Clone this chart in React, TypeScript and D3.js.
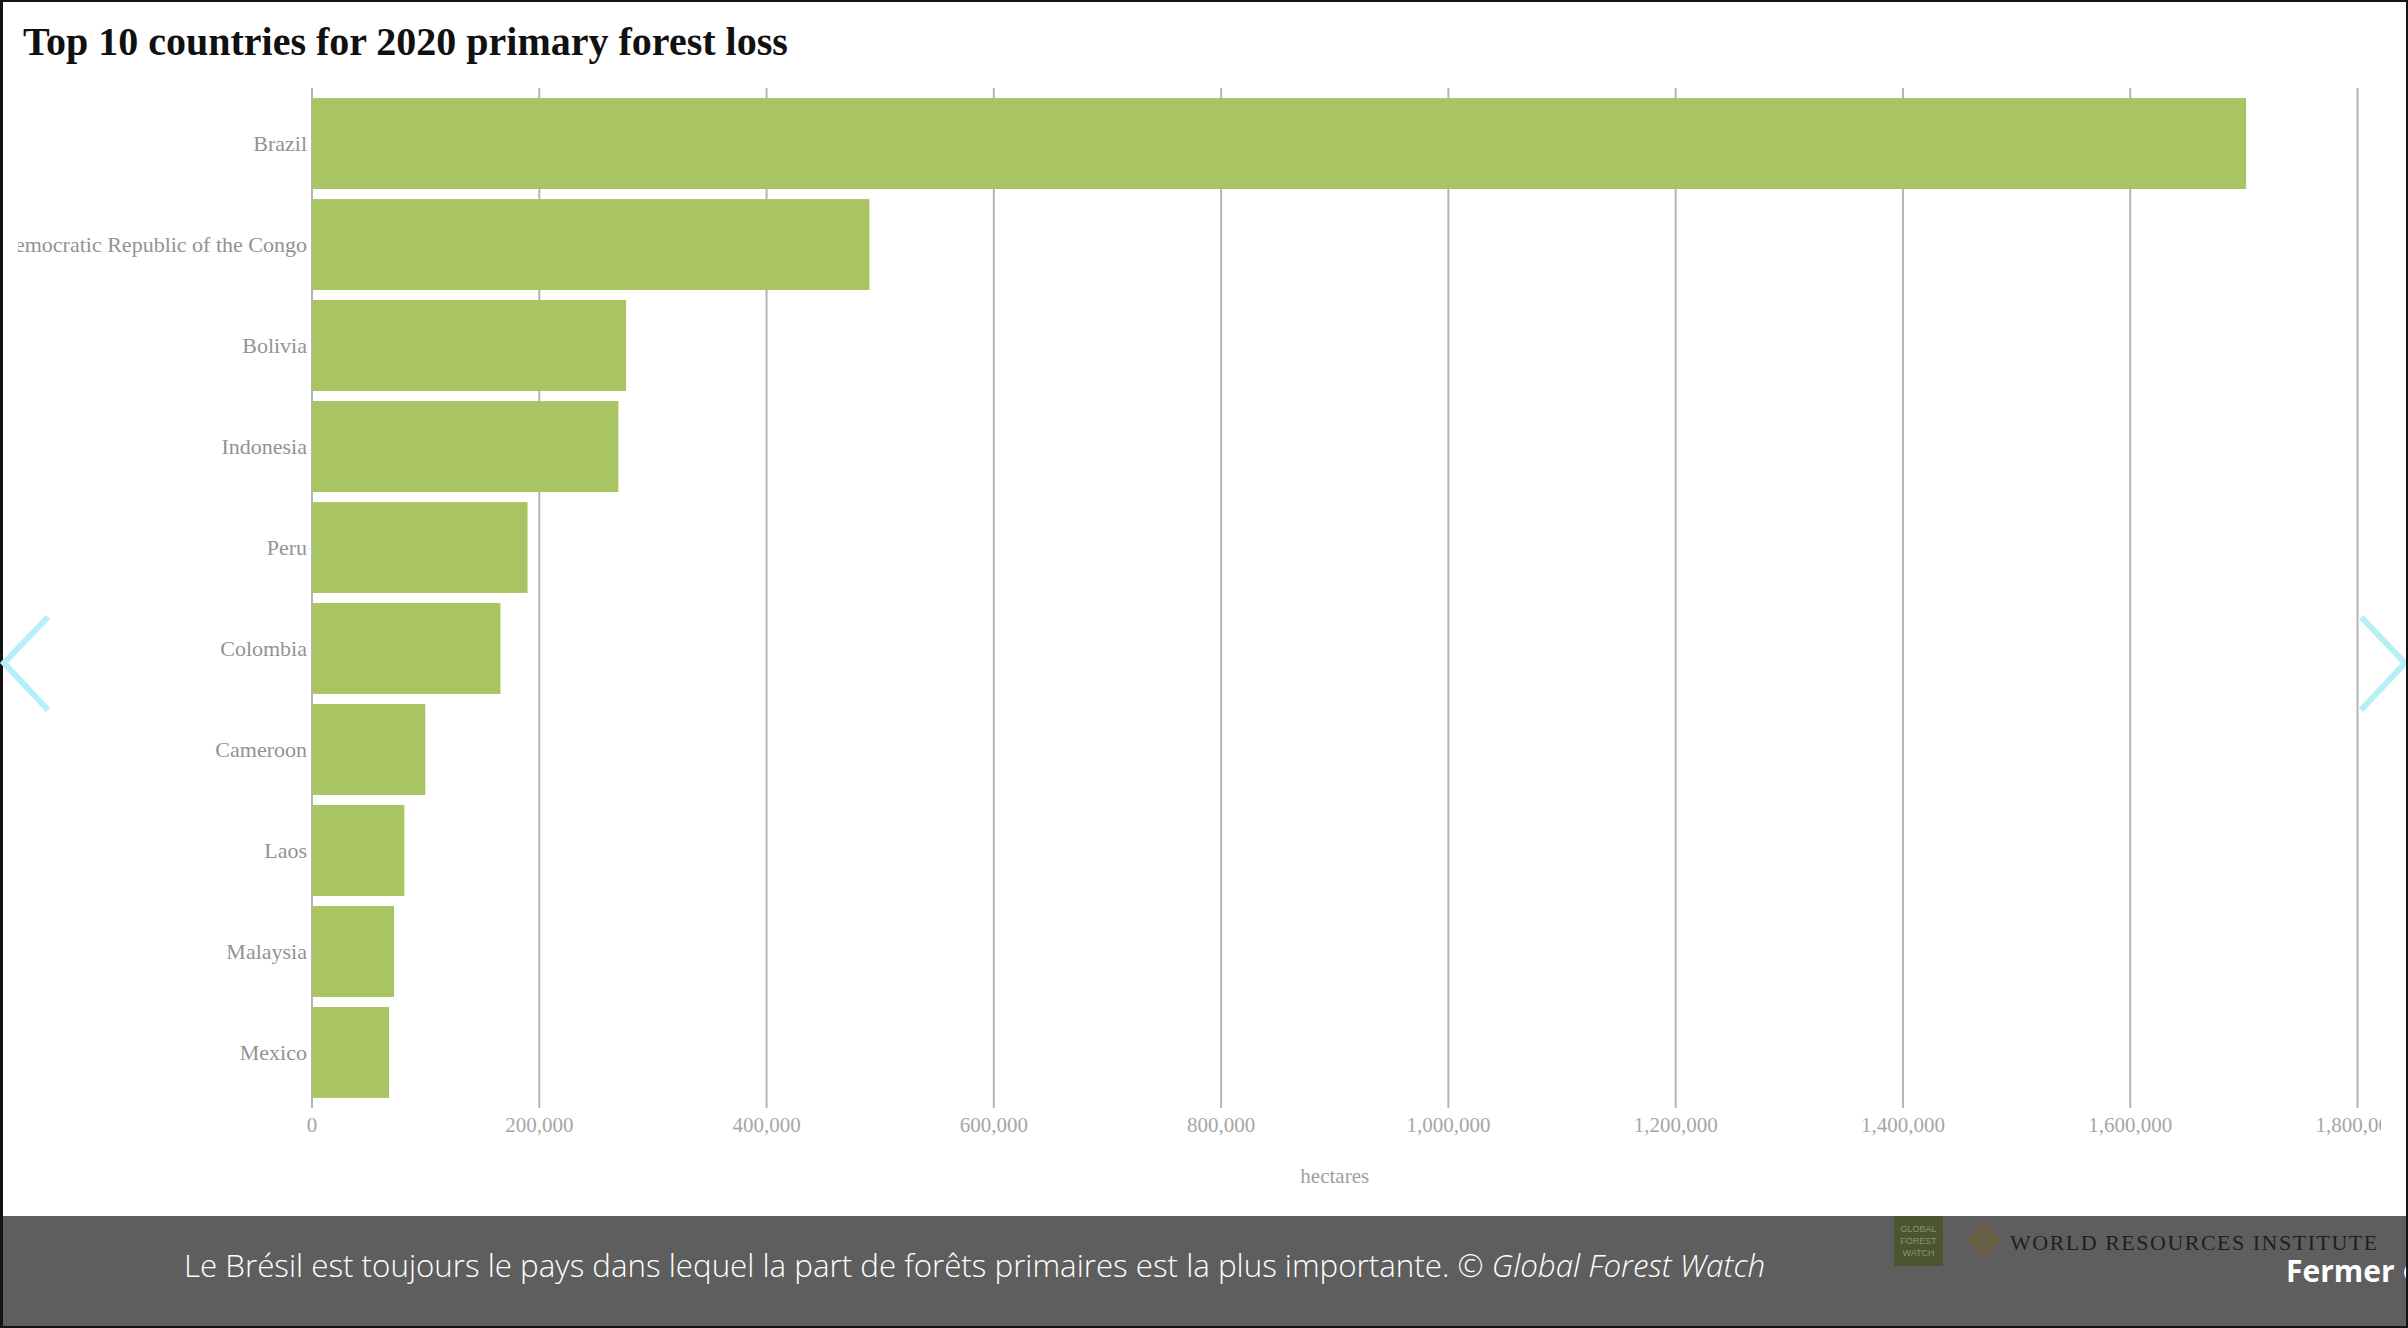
import React from 'react';
import * as d3 from 'd3';

const countries = [
  'Brazil',
  'Democratic Republic of the Congo',
  'Bolivia',
  'Indonesia',
  'Peru',
  'Colombia',
  'Cameroon',
  'Laos',
  'Malaysia',
  'Mexico',
];
const lossHa = [1702000, 490500, 276400, 269600, 189700, 165800, 99700, 81300, 72200, 67800];
const xMax = 1800000;
const axisTitle = 'hectares';
const chartTitle = 'Top 10 countries for 2020 primary forest loss';
const captionText = 'Le Brésil est toujours le pays dans lequel la part de forêts primaires est la plus importante. © ';
const captionSource = 'Global Forest Watch';

const W = 2408;
const H = 1328;

const App: React.FC = () => {
  const x = d3.scaleLinear().domain([0, xMax]).range([312, 2357.5]);
  const y = d3.scaleBand<string>().domain(countries).range([88, 1108]).paddingInner(0.1).paddingOuter(0.1);
  const fmt = d3.format(',');
  const ticks = x.ticks(10);
  const serif = '"Liberation Serif", "Times New Roman", serif';
  const sans = '"Open Sans", Lato, sans-serif';

  return (
    <svg width={W} height={H} style={{ position: 'fixed', left: 0, top: 0 }}>
      <defs>
        <clipPath id="chartClip">
          <rect x={18} y={0} width={2381 - 18} height={1216} />
        </clipPath>
      </defs>
      <rect x={0} y={0} width={W} height={H} fill="#141414" />
      <rect x={3} y={2} width={2403} height={1214} fill="#ffffff" />

      <text x={23} y={55} fontFamily={serif} fontWeight="bold" fontSize={40} fill="#111">
        {chartTitle}
      </text>

      <g clipPath="url(#chartClip)">
        {ticks.map((t) => (
          <g key={t}>
            <line x1={x(t)} x2={x(t)} y1={88} y2={1108} stroke="#b4b4b4" strokeWidth={2} />
            <text x={x(t)} y={1132} textAnchor="middle" fontFamily={serif} fontSize={21} fill="#a6a6a6">
              {fmt(t)}
            </text>
          </g>
        ))}
        {countries.map((c, i) => (
          <g key={c}>
            <rect
              x={x(0)}
              y={y(c)}
              width={x(lossHa[i]) - x(0)}
              height={y.bandwidth()}
              fill="#a9c462"
            />
            <text
              x={307}
              y={(y(c) as number) + y.bandwidth() / 2}
              dy="0.35em"
              textAnchor="end"
              fontFamily={serif}
              fontSize={22}
              fill="#939393"
            >
              {c}
            </text>
          </g>
        ))}
        <text x={(x(0) + x(xMax)) / 2} y={1183} textAnchor="middle" fontFamily={serif} fontSize={21} fill="#a0a0a0">
          {axisTitle}
        </text>
      </g>

      {/* carousel arrows */}
      <polyline points="48,617 4,663 48,710" fill="none" stroke="#b5f0f7" strokeWidth={6} />
      <polyline points="2361,617 2405,663 2361,710" fill="none" stroke="#b5f0f7" strokeWidth={6} />

      {/* caption bar */}
      <rect x={3} y={1216} width={2403} height={110} fill="#5e5e5e" />
      <text x={184} y={1277} fontFamily={sans} fontWeight={300} fontSize={31.3} fill="#ffffff">
        {captionText}
        <tspan fontStyle="italic">{captionSource}</tspan>
      </text>

      <rect x={1894} y={1216} width={49} height={50} fill="#4b5631" />
      <text fontFamily="'Liberation Sans', sans-serif" fontSize={9} fill="#8a9470" textAnchor="middle">
        <tspan x={1918.5} y={1232}>GLOBAL</tspan>
        <tspan x={1918.5} y={1244}>FOREST</tspan>
        <tspan x={1918.5} y={1256}>WATCH</tspan>
      </text>
      <g transform="translate(1984,1240) rotate(45)">
        <rect x={-12} y={-12} width={24} height={24} fill="#6e5f33" />
        {[-6, 0, 6].map((d) => (
          <g key={d}>
            <line x1={d} x2={d} y1={-12} y2={12} stroke="#5e5e5e" strokeWidth={1.5} />
            <line y1={d} y2={d} x1={-12} x2={12} stroke="#5e5e5e" strokeWidth={1.5} />
          </g>
        ))}
      </g>
      <text x={2010} y={1250} fontFamily={serif} fontSize={22} letterSpacing={1.5} fill="#1e1e1e">
        WORLD RESOURCES INSTITUTE
      </text>
      <text x={2286} y={1282} fontFamily={sans} fontWeight="bold" fontSize={30} fill="#ffffff">
        Fermer ⊗
      </text>
      <rect x={2406} y={0} width={2} height={H} fill="#141414" />
    </svg>
  );
};

export default App;
